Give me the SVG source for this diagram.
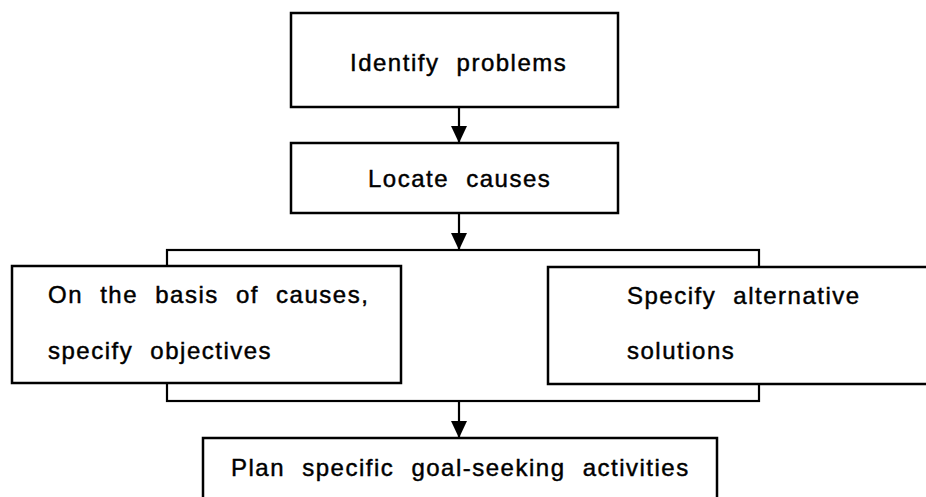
<svg xmlns="http://www.w3.org/2000/svg" width="926" height="497" viewBox="0 0 926 497">
<style>
.box{fill:#fff;stroke:#000;stroke-width:2.5}
.ln{fill:none;stroke:#000;stroke-width:2.2}
.t{font-family:"Liberation Sans",Arial,sans-serif;font-size:24px;letter-spacing:1.5px;word-spacing:9px;fill:#000;stroke:#000;stroke-width:0.45}
</style>
<defs>
<marker id="ah" markerUnits="userSpaceOnUse" markerWidth="18" markerHeight="16" viewBox="0 0 18 16" refX="17" refY="8" orient="auto">
<path d="M0,0 L17,8 L0,16 Z" fill="#000"/>
</marker>
</defs>
<rect width="926" height="497" fill="#fff"/>
<g id="connectors">
<rect class="ln" x="167" y="250" width="592" height="151"/>
<line class="ln" x1="459" y1="107" x2="459" y2="143" marker-end="url(#ah)"/>
<line class="ln" x1="459" y1="213" x2="459" y2="250" marker-end="url(#ah)"/>
<line class="ln" x1="459" y1="401" x2="459" y2="438" marker-end="url(#ah)"/>
</g>
<g id="identify">
<rect class="box" x="291" y="13" width="327" height="94"/>
<text class="t" x="350" y="71">Identify problems</text>
</g>
<g id="locate">
<rect class="box" x="291" y="143" width="327" height="70"/>
<text class="t" x="368" y="187">Locate causes</text>
</g>
<g id="objectives">
<rect class="box" x="12" y="266" width="389" height="117"/>
<text class="t" x="48" y="303">On the basis of causes,</text>
<text class="t" x="48" y="359">specify objectives</text>
</g>
<g id="alternatives">
<rect class="box" x="548" y="267" width="390" height="117"/>
<text class="t" x="627" y="304">Specify alternative</text>
<text class="t" x="627" y="359">solutions</text>
</g>
<g id="plan">
<rect class="box" x="203" y="438" width="514" height="70"/>
<text class="t" x="231" y="476">Plan specific goal-seeking activities</text>
</g>
</svg>
